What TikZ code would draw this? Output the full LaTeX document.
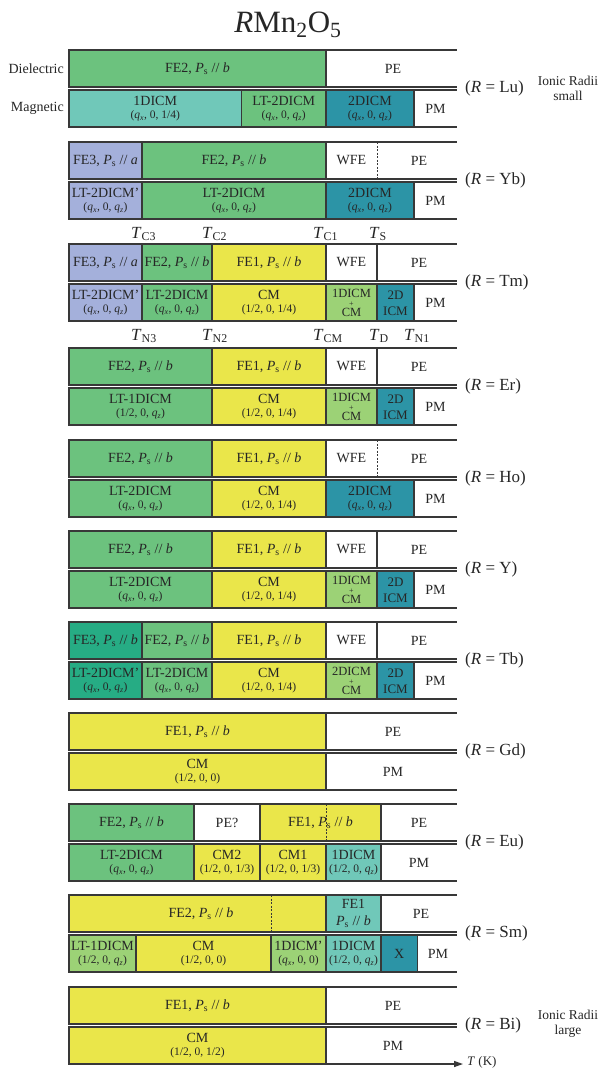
\documentclass[tikz,border=0pt]{standalone}
\usepackage{fontspec}
\setmainfont{Liberation Serif}
\usetikzlibrary{arrows.meta}

\definecolor{edge}{HTML}{383838}
\definecolor{ink}{HTML}{262626}
\definecolor{cGreen}{HTML}{6CC27E}
\definecolor{cTealL}{HTML}{70C8B9}
\definecolor{cTealD}{HTML}{2C94A6}
\definecolor{cLav}{HTML}{A4B0DB}
\definecolor{cYel}{HTML}{EAE64A}
\definecolor{cLime}{HTML}{9CD276}
\definecolor{cDkGr}{HTML}{26AC84}

% text helpers
\newcommand\Ps{\textit{P}\textsubscript{s}}
\newcommand\qxz{(\textit{q}\textsubscript{\textit{x}}, 0, \textit{q}\textsubscript{\textit{z}})}
\newcommand\hqz{(1/2, 0, \textit{q}\textsubscript{\textit{z}})}

% dielectric cell (one line of text): name, x1, x2, row top, fill, text
\newcommand\dcell[6]{%
  \node[cellbox, fill=#5, minimum width={(#3-#2)*1pt}, minimum height=37pt] (#1) at ({(#2+#3)/2},{#4+18.5}) {};
  \node[mainlab] (#1-t) at ({(#2+#3)/2},{#4+18.5}) {#6};}
% magnetic cell (name + wave vector): name, x1, x2, row top, fill, name, vector
\newcommand\mcell[7]{%
  \node[cellbox, fill=#5, minimum width={(#3-#2)*1pt}, minimum height=37pt] (#1) at ({(#2+#3)/2},{#4+58.5}) {};
  \node[mainlab] (#1-t) at ({(#2+#3)/2},{#4+50.5}) {#6};
  \node[sublab] (#1-s) at ({(#2+#3)/2},{#4+65.5}) {#7};}
% magnetic cell, single label
\newcommand\ocell[6]{%
  \node[cellbox, fill=#5, minimum width={(#3-#2)*1pt}, minimum height=37pt] (#1) at ({(#2+#3)/2},{#4+58.5}) {};
  \node[mainlab] (#1-t) at ({(#2+#3)/2},{#4+58.5}) {#6};}
% magnetic cell with a "phase + phase" stack
\newcommand\pcell[7]{%
  \node[cellbox, fill=#5, minimum width={(#3-#2)*1pt}, minimum height=37pt] (#1) at ({(#2+#3)/2},{#4+58.5}) {};
  \node[stacklab, anchor=base] (#1-t) at ({(#2+#3)/2},{#4+53.8})
    {\makebox[0pt]{#6}\makebox[0pt]{\raisebox{-8.4pt}{\fontsize{8}{9}\selectfont +}}\makebox[0pt]{\raisebox{-18.6pt}{#7}}};}
% magnetic cell with a two-line split name
\newcommand\tcell[7]{%
  \node[cellbox, fill=#5, minimum width={(#3-#2)*1pt}, minimum height=37pt] (#1) at ({(#2+#3)/2},{#4+58.5}) {};
  \node[splitlab] (#1-t) at ({(#2+#3)/2},{#4+59.5}) {#6\\#7};}
% horizontal rails of one compound (open on the right)
\newcommand\rails[1]{%
  \draw[barline] (69,#1)--(457,#1) (69,{#1+37})--(457,{#1+37}) (69,{#1+40})--(457,{#1+40});
  \draw[barline] (69,{#1+77})--(457,{#1+77});}
% dashed boundary in the dielectric bar
\newcommand\dsep[2]{\draw[sepdash] (#1,#2)--(#1,{#2+37});}
% compound label
\newcommand\rlabel[3]{\node[rlab] (#1) at (465,{#2+38.5}) {(\textit{R} = #3)};}

\begin{document}
\begin{tikzpicture}[x=1pt,y=-1pt,
  cellbox/.style={draw=edge, line width=1.3pt, inner sep=0pt, outer sep=0pt},
  barline/.style={draw=edge, line width=1.3pt},
  sepdash/.style={draw=edge, line width=1pt, dash pattern=on 2pt off 1.5pt},
  mainlab/.style={font=\fontsize{14}{16}\selectfont, text=ink, inner sep=0pt},
  sublab/.style={font=\fontsize{11.5}{13}\selectfont, text=ink, inner sep=0pt},
  stacklab/.style={font=\fontsize{12.5}{14}\selectfont, text=ink, inner sep=0pt},
  splitlab/.style={font=\fontsize{13}{16.5}\selectfont, text=ink, align=center, inner sep=0pt},
  rlab/.style={font=\fontsize{17}{19}\selectfont, text=ink, anchor=west, inner sep=0pt},
  tlab/.style={font=\fontsize{17}{19}\selectfont, text=ink, anchor=base west, inner sep=0pt},
  sidelab/.style={font=\fontsize{14}{16}\selectfont, text=ink, anchor=east, inner sep=0pt},
  sizelab/.style={font=\fontsize{13.5}{16}\selectfont, text=ink, align=center, inner sep=0pt},
]
\useasboundingbox[fill=white] (0,0) rectangle (603,1071);

\node[font=\fontsize{31}{34}\selectfont, text=ink, anchor=base, inner sep=0pt] (title) at (288,32)
  {\textit{R}Mn\textsubscript{2}O\textsubscript{5}};

\node[sidelab] (diel) at (64,68.5) {Dielectric};
\node[sidelab] (magn) at (64,108.5) {Magnetic};

% ---------------- Lu ----------------
\dcell{lu-d1}{69}{326}{50}{cGreen}{FE2, \Ps{} // \textit{b}}
\node[mainlab] (lu-pe) at (393,68.5) {PE};
\mcell{lu-m1}{69}{241.5}{50}{cTealL}{1DICM}{(\textit{q}\textsubscript{\textit{x}}, 0, 1/4)}
\mcell{lu-m2}{241.5}{326}{50}{cGreen}{LT-2DICM}{\qxz}
\mcell{lu-m3}{326}{414}{50}{cTealD}{2DICM}{\qxz}
\node[mainlab] (lu-pm) at (435.5,108.5) {PM};
\rails{50}
\rlabel{lu}{50}{Lu}
\node[sizelab] (small) at (568,88) {Ionic Radii\\[-1pt]small};

% ---------------- Yb ----------------
\dcell{yb-d1}{69}{142}{142}{cLav}{FE3, \Ps{} // \textit{a}}
\dcell{yb-d2}{142}{326}{142}{cGreen}{FE2, \Ps{} // \textit{b}}
\node[mainlab] (yb-wfe) at (351.5,160.5) {WFE};
\dsep{377}{142}
\node[mainlab] (yb-pe) at (419,160.5) {PE};
\mcell{yb-m1}{69}{142}{142}{cLav}{LT-2DICM’}{\qxz}
\mcell{yb-m2}{142}{326}{142}{cGreen}{LT-2DICM}{\qxz}
\mcell{yb-m3}{326}{414}{142}{cTealD}{2DICM}{\qxz}
\node[mainlab] (yb-pm) at (435.5,200.5) {PM};
\rails{142}
\rlabel{yb}{142}{Yb}

\node[tlab] (tc3) at (131,238) {\textit{T}\textsubscript{C3}};
\node[tlab] (tc2) at (202,238) {\textit{T}\textsubscript{C2}};
\node[tlab] (tc1) at (313,238) {\textit{T}\textsubscript{C1}};
\node[tlab] (ts) at (369,238) {\textit{T}\textsubscript{S}};

% ---------------- Tm ----------------
\dcell{tm-d1}{69}{142}{244}{cLav}{FE3, \Ps{} // \textit{a}}
\dcell{tm-d2}{142}{212}{244}{cGreen}{FE2, \Ps{} // \textit{b}}
\dcell{tm-d3}{212}{326}{244}{cYel}{FE1, \Ps{} // \textit{b}}
\dcell{tm-d4}{326}{377}{244}{white}{WFE}
\node[mainlab] (tm-pe) at (419,262.5) {PE};
\mcell{tm-m1}{69}{142}{244}{cLav}{LT-2DICM’}{\qxz}
\mcell{tm-m2}{142}{212}{244}{cGreen}{LT-2DICM}{\qxz}
\mcell{tm-m3}{212}{326}{244}{cYel}{CM}{(1/2, 0, 1/4)}
\pcell{tm-m4}{326}{377}{244}{cLime}{1DICM}{CM}
\tcell{tm-m5}{377}{414}{244}{cTealD}{2D}{ICM}
\node[mainlab] (tm-pm) at (435.5,302.5) {PM};
\rails{244}
\rlabel{tm}{244}{Tm}

\node[tlab] (tn3) at (131,340) {\textit{T}\textsubscript{N3}};
\node[tlab] (tn2) at (202,340) {\textit{T}\textsubscript{N2}};
\node[tlab] (tcm) at (313,340) {\textit{T}\textsubscript{CM}};
\node[tlab] (td) at (369,340) {\textit{T}\textsubscript{D}};
\node[tlab] (tn1) at (404,340) {\textit{T}\textsubscript{N1}};

% ---------------- Er ----------------
\dcell{er-d1}{69}{212}{348}{cGreen}{FE2, \Ps{} // \textit{b}}
\dcell{er-d2}{212}{326}{348}{cYel}{FE1, \Ps{} // \textit{b}}
\dcell{er-d3}{326}{377}{348}{white}{WFE}
\node[mainlab] (er-pe) at (419,366.5) {PE};
\mcell{er-m1}{69}{212}{348}{cGreen}{LT-1DICM}{\hqz}
\mcell{er-m2}{212}{326}{348}{cYel}{CM}{(1/2, 0, 1/4)}
\pcell{er-m3}{326}{377}{348}{cLime}{1DICM}{CM}
\tcell{er-m4}{377}{414}{348}{cTealD}{2D}{ICM}
\node[mainlab] (er-pm) at (435.5,406.5) {PM};
\rails{348}
\rlabel{er}{348}{Er}

% ---------------- Ho ----------------
\dcell{ho-d1}{69}{212}{440}{cGreen}{FE2, \Ps{} // \textit{b}}
\dcell{ho-d2}{212}{326}{440}{cYel}{FE1, \Ps{} // \textit{b}}
\node[mainlab] (ho-wfe) at (351.5,458.5) {WFE};
\dsep{377}{440}
\node[mainlab] (ho-pe) at (419,458.5) {PE};
\mcell{ho-m1}{69}{212}{440}{cGreen}{LT-2DICM}{\qxz}
\mcell{ho-m2}{212}{326}{440}{cYel}{CM}{(1/2, 0, 1/4)}
\mcell{ho-m3}{326}{414}{440}{cTealD}{2DICM}{\qxz}
\node[mainlab] (ho-pm) at (435.5,498.5) {PM};
\rails{440}
\rlabel{ho}{440}{Ho}

% ---------------- Y ----------------
\dcell{y-d1}{69}{212}{531}{cGreen}{FE2, \Ps{} // \textit{b}}
\dcell{y-d2}{212}{326}{531}{cYel}{FE1, \Ps{} // \textit{b}}
\dcell{y-d3}{326}{377}{531}{white}{WFE}
\node[mainlab] (y-pe) at (419,549.5) {PE};
\mcell{y-m1}{69}{212}{531}{cGreen}{LT-2DICM}{\qxz}
\mcell{y-m2}{212}{326}{531}{cYel}{CM}{(1/2, 0, 1/4)}
\pcell{y-m3}{326}{377}{531}{cLime}{1DICM}{CM}
\tcell{y-m4}{377}{414}{531}{cTealD}{2D}{ICM}
\node[mainlab] (y-pm) at (435.5,589.5) {PM};
\rails{531}
\rlabel{y}{531}{Y}

% ---------------- Tb ----------------
\dcell{tb-d1}{69}{142}{622}{cDkGr}{FE3, \Ps{} // \textit{b}}
\dcell{tb-d2}{142}{212}{622}{cGreen}{FE2, \Ps{} // \textit{b}}
\dcell{tb-d3}{212}{326}{622}{cYel}{FE1, \Ps{} // \textit{b}}
\dcell{tb-d4}{326}{377}{622}{white}{WFE}
\node[mainlab] (tb-pe) at (419,640.5) {PE};
\mcell{tb-m1}{69}{142}{622}{cDkGr}{LT-2DICM’}{\qxz}
\mcell{tb-m2}{142}{212}{622}{cGreen}{LT-2DICM}{\qxz}
\mcell{tb-m3}{212}{326}{622}{cYel}{CM}{(1/2, 0, 1/4)}
\pcell{tb-m4}{326}{377}{622}{cLime}{2DICM}{CM}
\tcell{tb-m5}{377}{414}{622}{cTealD}{2D}{ICM}
\node[mainlab] (tb-pm) at (435.5,680.5) {PM};
\rails{622}
\rlabel{tb}{622}{Tb}

% ---------------- Gd ----------------
\dcell{gd-d1}{69}{326}{713}{cYel}{FE1, \Ps{} // \textit{b}}
\node[mainlab] (gd-pe) at (393,731.5) {PE};
\mcell{gd-m1}{69}{326}{713}{cYel}{CM}{(1/2, 0, 0)}
\node[mainlab] (gd-pm) at (393,771.5) {PM};
\rails{713}
\rlabel{gd}{713}{Gd}

% ---------------- Eu ----------------
\dcell{eu-d1}{69}{194}{804}{cGreen}{FE2, \Ps{} // \textit{b}}
\dcell{eu-d2}{194}{260}{804}{white}{PE?}
\dcell{eu-d3}{260}{381}{804}{cYel}{FE1, \Ps{} // \textit{b}}
\dsep{326}{804}
\node[mainlab] (eu-pe) at (419,822.5) {PE};
\mcell{eu-m1}{69}{194}{804}{cGreen}{LT-2DICM}{\qxz}
\mcell{eu-m2}{194}{260}{804}{cYel}{CM2}{(1/2, 0, 1/3)}
\mcell{eu-m3}{260}{326}{804}{cYel}{CM1}{(1/2, 0, 1/3)}
\mcell{eu-m4}{326}{381}{804}{cTealL}{1DICM}{\hqz}
\node[mainlab] (eu-pm) at (419,862.5) {PM};
\rails{804}
\rlabel{eu}{804}{Eu}

% ---------------- Sm ----------------
\node[cellbox, fill=cYel, minimum width=257pt, minimum height=37pt] (sm-d1) at (197.5,913.5) {};
\node[mainlab] (sm-d1-t) at (201,913.5) {FE2, \Ps{} // \textit{b}};
\dsep{271}{895}
\node[cellbox, fill=cTealL, minimum width=55pt, minimum height=37pt] (sm-d2) at (353.5,913.5) {};
\node[mainlab, align=center, font=\fontsize{14}{17.5}\selectfont] (sm-d2-t) at (353.5,913.5) {FE1\\\Ps{} // \textit{b}};
\node[mainlab] (sm-pe) at (421,913.5) {PE};
\mcell{sm-m1}{69}{136}{895}{cLime}{LT-1DICM}{\hqz}
\mcell{sm-m2}{136}{271}{895}{cYel}{CM}{(1/2, 0, 0)}
\mcell{sm-m3}{271}{326}{895}{cLime}{1DICM’}{(\textit{q}\textsubscript{\textit{x}}, 0, 0)}
\mcell{sm-m4}{326}{381}{895}{cTealL}{1DICM}{\hqz}
\ocell{sm-m5}{381}{417.5}{895}{cTealD}{X}
\node[mainlab] (sm-pm) at (438,953.5) {PM};
\rails{895}
\rlabel{sm}{895}{Sm}

% ---------------- Bi ----------------
\dcell{bi-d1}{69}{326}{987}{cYel}{FE1, \Ps{} // \textit{b}}
\node[mainlab] (bi-pe) at (393,1005.5) {PE};
\mcell{bi-m1}{69}{326}{987}{cYel}{CM}{(1/2, 0, 1/2)}
\node[mainlab] (bi-pm) at (393,1045.5) {PM};
\draw[barline] (69,987)--(457,987) (69,1024)--(457,1024) (69,1027)--(457,1027);
\rlabel{bi}{987}{Bi}
\node[sizelab] (large) at (568,1024) {Ionic Radii\\[-1pt]large};

% temperature axis
\coordinate (axis0) at (69,1064);
\coordinate (axis1) at (463,1064);
\draw[barline, -{Triangle[length=9pt,width=6pt]}] (axis0) -- (axis1);
\node[font=\fontsize{13}{15}\selectfont, text=ink, anchor=west, inner sep=0pt] (tk) at (467,1062) {\textit{T} (K)};
\end{tikzpicture}
\end{document}
